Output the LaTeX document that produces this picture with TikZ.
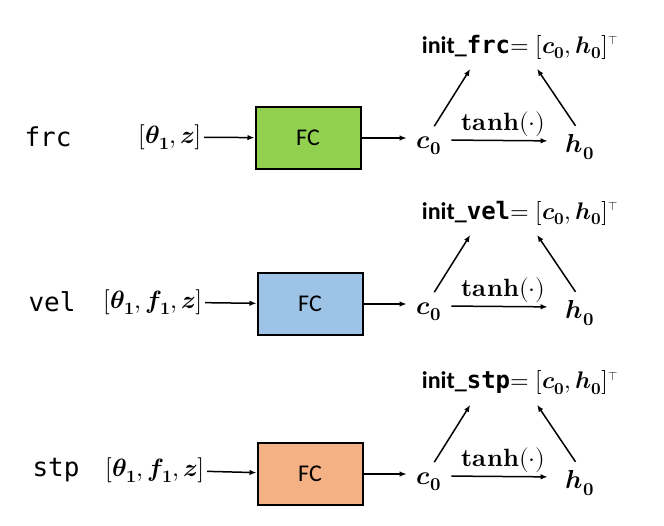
\documentclass[tikz,border=0pt]{standalone}
\usepackage{amsmath}
\usepackage{fontspec}
\usepackage{unicode-math}
\setmainfont{Carlito}
\setmonofont{DejaVu Sans Mono}
\setmathfont{Latin Modern Math}
\usetikzlibrary{arrows.meta,positioning,calc}
\definecolor{FcGreen}{HTML}{92D050}
\definecolor{FcBlue}{HTML}{9DC3E6}
\definecolor{FcOrange}{HTML}{F4B183}
\tikzset{
  >={Latex[length=7pt,width=5.5pt]},
  tag/.style={font=\fontsize{26}{30}\selectfont\ttfamily,inner sep=1pt},
  vec/.style={font=\fontsize{25}{30}\selectfont,inner sep=2pt},
  fcbox/.style={draw=black,line width=2pt,minimum width=105pt,minimum height=62pt,font=\fontsize{24}{28}\selectfont},
  st/.style={font=\fontsize{26}{30}\selectfont,inner sep=2pt},
  initlab/.style={font=\fontsize{24}{28}\selectfont\bfseries,inner sep=2pt},
  flow/.style={->,line width=1.5pt,draw=black},
  lab/.style={font=\fontsize{25}{30}\selectfont,inner sep=3pt}
}
\newcommand{\bvar}[2]{\symbfit{#1}_{\symbf{#2}}}
\newcommand{\initof}[1]{init\_{\ttfamily\bfseries #1}$=[\bvar{c}{0},\bvar{h}{0}]^{\scriptscriptstyle\intercal}$}
\newcommand{\tanhdot}{$\symbf{tanh}(\cdot)$}

\begin{document}
\begin{tikzpicture}[x=1pt,y=-1pt]
  \useasboundingbox (0,0) rectangle (664,525);
  % frc
  \node[tag] (frc) at (48,137) {frc};
  \node[vec] (frcin) at (170,137) {$[\bvar{\theta}{1},\symbfit{z}]$};
  \node[fcbox,fill=FcGreen] (frcfc) at (308,138) {FC};
  \node[st] (frcc) at (429,146) {$\bvar{c}{0}$};
  \node[st] (frch) at (580,147) {$\bvar{h}{0}$};
  \node[initlab] (frcinit) at (520,47) {\initof{frc}};
  \draw[flow] (frcin) -- (frcfc);
  \draw[flow,shorten >=8pt] (frcfc) -- (frcfc -| frcc.west);
  \draw[flow,shorten <=8pt,shorten >=16pt] ([yshift=6]frcc.east) -- node[lab,above] {\tanhdot} ([yshift=6]frch.west);
  \draw[flow,shorten <=10pt,shorten >=9pt] (frcc.north) -- ([xshift=-45]frcinit.south);
  \draw[flow,shorten <=8pt,shorten >=9pt] (frch.north) -- ([xshift=12]frcinit.south);
  % vel
  \node[tag] (vel) at (52,302) {vel};
  \node[vec] (velin) at (153,302) {$[\bvar{\theta}{1},\bvar{f}{1},\symbfit{z}]$};
  \node[fcbox,fill=FcBlue] (velfc) at (310,304) {FC};
  \node[st] (velc) at (429,312) {$\bvar{c}{0}$};
  \node[st] (velh) at (580,313) {$\bvar{h}{0}$};
  \node[initlab] (velinit) at (520,213) {\initof{vel}};
  \draw[flow] (velin) -- (velfc);
  \draw[flow,shorten >=8pt] (velfc) -- (velfc -| velc.west);
  \draw[flow,shorten <=8pt,shorten >=16pt] ([yshift=6]velc.east) -- node[lab,above] {\tanhdot} ([yshift=6]velh.west);
  \draw[flow,shorten <=10pt,shorten >=9pt] (velc.north) -- ([xshift=-45]velinit.south);
  \draw[flow,shorten <=8pt,shorten >=9pt] (velh.north) -- ([xshift=12]velinit.south);
  % stp
  \node[tag] (stp) at (56,470) {stp};
  \node[vec] (stpin) at (155,470) {$[\bvar{\theta}{1},\bvar{f}{1},\symbfit{z}]$};
  \node[fcbox,fill=FcOrange] (stpfc) at (310,474) {FC};
  \node[st] (stpc) at (429,482) {$\bvar{c}{0}$};
  \node[st] (stph) at (580,483) {$\bvar{h}{0}$};
  \node[initlab] (stpinit) at (520,383) {\initof{stp}};
  \draw[flow] (stpin) -- (stpfc);
  \draw[flow,shorten >=8pt] (stpfc) -- (stpfc -| stpc.west);
  \draw[flow,shorten <=8pt,shorten >=16pt] ([yshift=6]stpc.east) -- node[lab,above] {\tanhdot} ([yshift=6]stph.west);
  \draw[flow,shorten <=10pt,shorten >=9pt] (stpc.north) -- ([xshift=-45]stpinit.south);
  \draw[flow,shorten <=8pt,shorten >=9pt] (stph.north) -- ([xshift=12]stpinit.south);
\end{tikzpicture}
\end{document}
